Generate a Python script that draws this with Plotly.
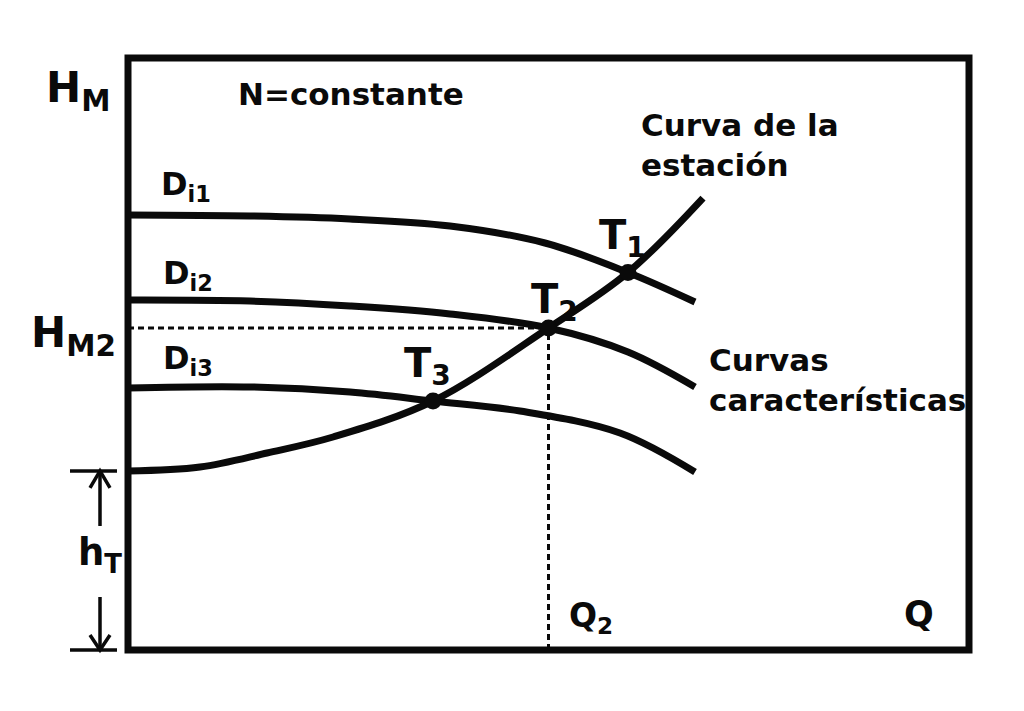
import plotly.graph_objects as go

# ---- data (Q in % of axis, H in % of axis) ----
Q_D1 = [0, 14.51, 26.40, 38.29, 49.58, 59.45, 67.42]
H_D1 = [73.48, 73.31, 72.80, 71.62, 68.75, 63.77, 58.78]

Q_D2 = [0, 14.51, 26.40, 38.29, 50.0, 59.45, 67.42]
H_D2 = [59.12, 58.95, 58.11, 56.76, 54.39, 50.34, 44.43]

Q_D3 = [0, 14.51, 26.40, 36.27, 46.61, 58.50, 67.42]
H_D3 = [44.26, 44.43, 43.58, 42.06, 40.37, 36.66, 30.07]

Q_STATION = [0, 8.56, 16.53, 24.38, 36.27, 50.0, 59.45, 68.37]
H_STATION = [30.24, 30.91, 33.28, 35.98, 42.06, 54.39, 63.77, 76.35]

Q_T = [59.45, 50.0, 36.27]
H_T_PTS = [63.77, 54.39, 42.06]

Q2 = 50.0
H_M2 = 54.39
h_T = 30.24

# ---- layout geometry (pixels) ----
FW, FH = 1024, 711
L, R, T, B = 128, 969, 58, 650
W, H = R - L, B - T


def ppx(x):
    return (x - L) / W


def ppy(y):
    return (B - y) / H


FONT = "DejaVu Sans"
BLACK = "#0a0a0a"

fig = go.Figure()

for q, h in [(Q_D1, H_D1), (Q_D2, H_D2), (Q_D3, H_D3), (Q_STATION, H_STATION)]:
    fig.add_trace(go.Scatter(x=q, y=h, mode="lines",
                             line=dict(color=BLACK, width=7, shape="spline", smoothing=1.0),
                             hoverinfo="skip"))

# dashed guides
fig.add_trace(go.Scatter(x=[0, Q2], y=[H_M2, H_M2], mode="lines",
                         line=dict(color=BLACK, width=3, dash="6px,4px")))
fig.add_trace(go.Scatter(x=[Q2, Q2], y=[0, H_M2], mode="lines",
                         line=dict(color=BLACK, width=3, dash="6px,4px")))

# operating points
fig.add_trace(go.Scatter(x=Q_T, y=H_T_PTS, mode="markers",
                         marker=dict(color=BLACK, size=17, symbol="circle"),
                         cliponaxis=False))

shapes = []
# plot frame
shapes.append(dict(type="rect", xref="paper", yref="paper", x0=0, x1=1, y0=0, y1=1,
                   line=dict(color=BLACK, width=7), layer="above"))
# h_T dimension marks
lw = 3.5
yt = h_T / 100.0
kp = 1.0 / H
shapes += [
    dict(type="line", xref="paper", yref="paper", x0=ppx(70), x1=ppx(117), y0=yt, y1=yt,
         line=dict(color=BLACK, width=lw)),
    dict(type="line", xref="paper", yref="paper", x0=ppx(70), x1=ppx(117), y0=0, y1=0,
         line=dict(color=BLACK, width=lw)),
    dict(type="line", xref="paper", yref="paper", x0=ppx(100), x1=ppx(100), y0=yt, y1=yt - 55 * kp,
         line=dict(color=BLACK, width=lw)),
    dict(type="line", xref="paper", yref="paper", x0=ppx(100), x1=ppx(100), y0=0, y1=53 * kp,
         line=dict(color=BLACK, width=lw)),
    dict(type="path", xref="paper", yref="paper",
         path=f"M {ppx(90)},{yt - 17 * kp} L {ppx(100)},{yt} L {ppx(110)},{yt - 17 * kp}",
         line=dict(color=BLACK, width=lw)),
    dict(type="path", xref="paper", yref="paper",
         path=f"M {ppx(90)},{15 * kp} L {ppx(100)},{0} L {ppx(110)},{15 * kp}",
         line=dict(color=BLACK, width=lw)),
]

# labels: (text, left px, anchor y px, size, yanchor)
labels = [
    ("H<sub>M</sub>", 45, 90, 42, "middle"),
    ("N=constante", 237, 94, 31, "middle"),
    ("D<sub>i1</sub>", 160, 186, 32, "middle"),
    ("D<sub>i2</sub>", 162, 275, 32, "middle"),
    ("H<sub>M2</sub>", 30, 335, 42, "middle"),
    ("D<sub>i3</sub>", 162, 360, 32, "middle"),
    ("T<sub>1</sub>", 598, 238, 40, "middle"),
    ("T<sub>2</sub>", 530, 302, 40, "middle"),
    ("T<sub>3</sub>", 403, 366, 40, "middle"),
    ("h<sub>T</sub>", 77, 555, 37, "middle"),
    ("Q<sub>2</sub>", 568, 617, 33, "middle"),
    ("Q", 903, 614, 35, "middle"),
    ("Curva de la<br>estación", 640, 106, 31, "top"),
    ("Curvas<br>características", 708, 341, 31, "top"),
]

annotations = []
for text, x, y, size, ya in labels:
    annotations.append(dict(text=f"<b>{text}</b>", xref="paper", yref="paper",
                            x=ppx(x), y=ppy(y), xanchor="left", yanchor=ya,
                            align="left", showarrow=False, borderpad=0,
                            font=dict(family=FONT, size=size, color=BLACK)))

fig.update_layout(
    width=FW, height=FH,
    margin=dict(l=L, r=FW - R, t=T, b=FH - B),
    paper_bgcolor="white", plot_bgcolor="white",
    showlegend=False,
    xaxis=dict(range=[0, 100], visible=False, fixedrange=True),
    yaxis=dict(range=[0, 100], visible=False, fixedrange=True),
    shapes=shapes, annotations=annotations,
)

fig.write_html("out.html",
               config={"displayModeBar": False, "staticPlot": True},
               post_script="document.body.style.margin='0';document.body.style.overflow='hidden';")
